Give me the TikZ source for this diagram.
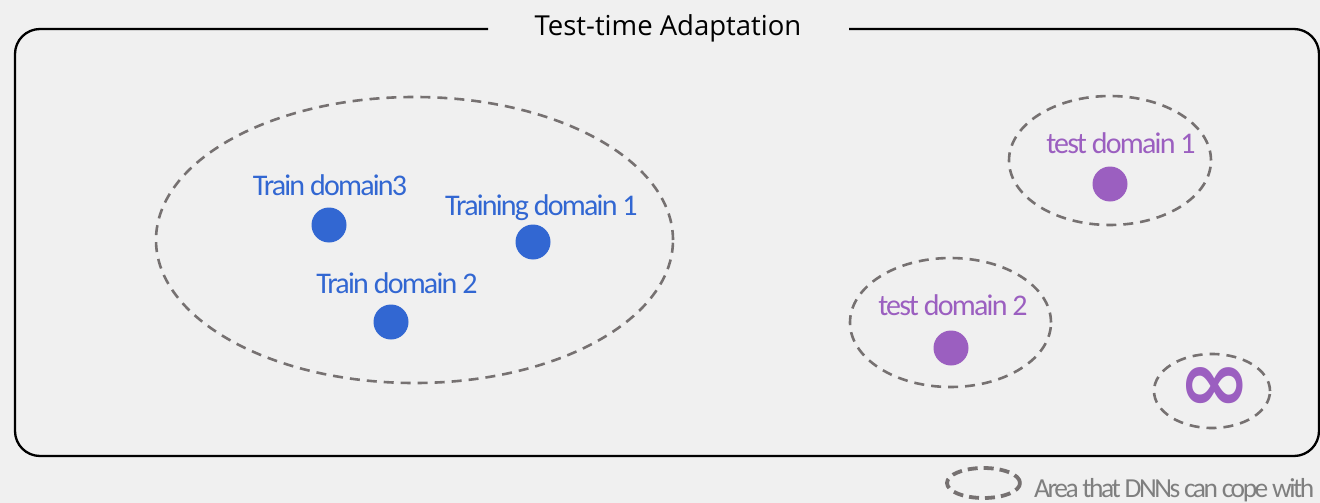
\documentclass[tikz,border=0pt]{standalone}
\usepackage{fontspec}
\usepackage{graphicx}
\usetikzlibrary{shapes.geometric}
\setmainfont{Carlito}
\newfontfamily\titlefont{Open Sans}
\newfontfamily\labelfont[LetterSpace=-6]{Carlito}
\newfontfamily\legendfont[LetterSpace=-9]{Carlito}
\newfontfamily\symfont{DejaVu Sans}

\definecolor{canvas}{HTML}{F0F0F0}
\definecolor{dashgray}{HTML}{767171}
\definecolor{trainblue}{HTML}{3267D2}
\definecolor{testpurple}{HTML}{9B5FC0}
\definecolor{legendgray}{HTML}{7F7F7F}

\tikzset{
  frame/.style={draw=black, line width=2.3pt, rounded corners=25pt},
  area/.style={ellipse, draw=dashgray, line width=2.6pt, dash pattern=on 10pt off 7pt, inner sep=0pt},
  dot/.style={circle, inner sep=0pt, minimum size=35pt},
  traindot/.style={dot, fill=trainblue},
  testdot/.style={dot, fill=testpurple},
  lbl/.style={font=\labelfont\fontsize{30}{36}\selectfont, anchor=base, inner sep=0pt},
  trainlbl/.style={lbl, text=trainblue},
  testlbl/.style={lbl, text=testpurple},
}

\begin{document}
\begin{tikzpicture}[x=1pt, y=-1pt]
  \useasboundingbox[fill=canvas] (0,0) rectangle (1320,503);

  % outer frame with a gap for the heading
  \coordinate (gapL) at (488,29);
  \coordinate (gapR) at (849,29);
  \draw[frame] (gapL) -- (15,29) -- (15,456) -- (1319,456) -- (1319,29) -- (gapR);
  \node[font=\titlefont\fontsize{27.5}{33}\selectfont, anchor=base, inner sep=0pt] (title) at (668,36) {Test-time Adaptation};

  % training domains
  \node[area, minimum width=517pt, minimum height=286pt] (trainarea) at (414.5,240) {};
  \node[trainlbl] (lblT3) at (330,195) {Train domain3};
  \node[traindot] (dotT3) at (329,225) {};
  \node[trainlbl] (lblT1) at (541.5,215) {Training domain 1};
  \node[traindot] (dotT1) at (533,242) {};
  \node[trainlbl] (lblT2) at (397,293) {Train domain 2};
  \node[traindot] (dotT2) at (391,322) {};

  % test domains
  \node[area, minimum width=202pt, minimum height=129pt] (testarea1) at (1110,160.5) {};
  \node[testlbl] (lblS1) at (1121,153) {test domain 1};
  \node[testdot] (dotS1) at (1110,184) {};

  \node[area, minimum width=201pt, minimum height=129pt] (testarea2) at (950.5,322.5) {};
  \node[testlbl] (lblS2) at (953,315) {test domain 2};
  \node[testdot] (dotS2) at (951,348) {};

  \node[area, minimum width=116pt, minimum height=74pt] (infarea) at (1212,391) {};
  \node[font=\symfont\bfseries\fontsize{87}{87}\selectfont, text=testpurple, inner sep=0pt] (inf) at (1214.5,389.5) {∞};

  % legend
  \node[area, line width=3.8pt, dash pattern=on 10pt off 6pt, minimum width=73pt, minimum height=30pt] (legarea) at (983.5,483) {};
  \node[text=legendgray, anchor=base west, inner sep=0pt] (legtext) at (1034,497)
    {\resizebox{280pt}{!}{\legendfont\fontsize{28}{34}\selectfont Area that DNNs can cope with}};
\end{tikzpicture}
\end{document}
